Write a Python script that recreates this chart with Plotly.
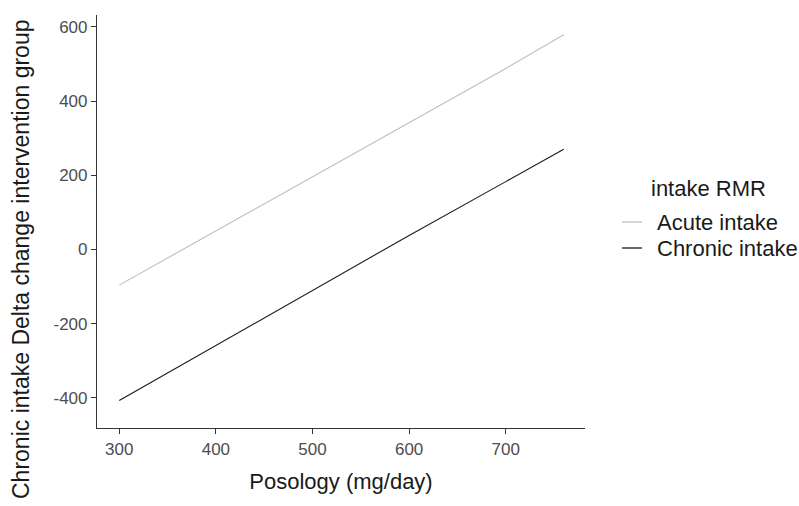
import plotly.graph_objects as go

posology = [300, 400, 500, 600, 700, 760]
acute_intake = [-96, 50, 196, 340, 488, 579]
chronic_intake = [-407, -259, -112, 38, 183, 270]
series_names = ["Acute intake", "Chronic intake"]
series_colors = ["#BEBEBE", "#1A1A1A"]
x_ticks = [300, 400, 500, 600, 700]
y_ticks = [-400, -200, 0, 200, 400, 600]
y_tick_labels = ["-400", "-200", "0", "200", "400", "600"]

W, H = 799, 506
L, R, T, B = 97, 214, 15, 78
PW, PH = W - L - R, H - T - B


def px_x(px):
    return (px - L) / PW


def px_y(py):
    return (H - B - py) / PH


fig = go.Figure()
for name, vals, col in zip(series_names, [acute_intake, chronic_intake], series_colors):
    fig.add_trace(go.Scatter(x=posology, y=vals, mode="lines", name=name,
                             line=dict(color=col, width=1.1), showlegend=False))

axis_common = dict(showgrid=False, zeroline=False, showline=True, linecolor="#333333", linewidth=1.2,
                   ticks="outside", ticklen=5, tickwidth=1.2, tickcolor="#333333",
                   tickfont=dict(family="Liberation Sans", size=17, color="#4D4D4D"))

txt_font = dict(family="Liberation Sans", size=22, color="#1A1A1A")

annotations = [
    dict(text="Chronic intake Delta change intervention group", xref="paper", yref="paper",
         x=px_x(21), y=px_y(260), xanchor="center", yanchor="middle",
         textangle=-90, showarrow=False,
         font=dict(family="Liberation Sans", size=23, color="#1A1A1A")),
    dict(text="intake RMR", xref="paper", yref="paper",
         x=px_x(649), y=px_y(188), xanchor="left", yanchor="middle",
         showarrow=False, font=txt_font),
]
shapes = []
legend_y = [222, 248]
for name, col, ly in zip(series_names, series_colors, legend_y):
    shapes.append(dict(type="line", xref="paper", yref="paper",
                       x0=px_x(622), x1=px_x(642), y0=px_y(ly), y1=px_y(ly),
                       line=dict(color=col, width=1.3)))
    annotations.append(dict(text=name, xref="paper", yref="paper",
                            x=px_x(655), y=px_y(ly), xanchor="left", yanchor="middle",
                            showarrow=False, font=txt_font))

fig.update_layout(
    width=W, height=H,
    margin=dict(l=L, r=R, t=T, b=B),
    paper_bgcolor="white", plot_bgcolor="white",
    xaxis=dict(range=[277, 782], tickvals=x_ticks, **axis_common,
               title=dict(text="Posology (mg/day)", standoff=16, font=txt_font)),
    yaxis=dict(range=[-481, 632], tickvals=y_ticks, ticktext=y_tick_labels, **axis_common),
    showlegend=False,
    annotations=annotations,
    shapes=shapes,
)

fig.write_html("out.html")
